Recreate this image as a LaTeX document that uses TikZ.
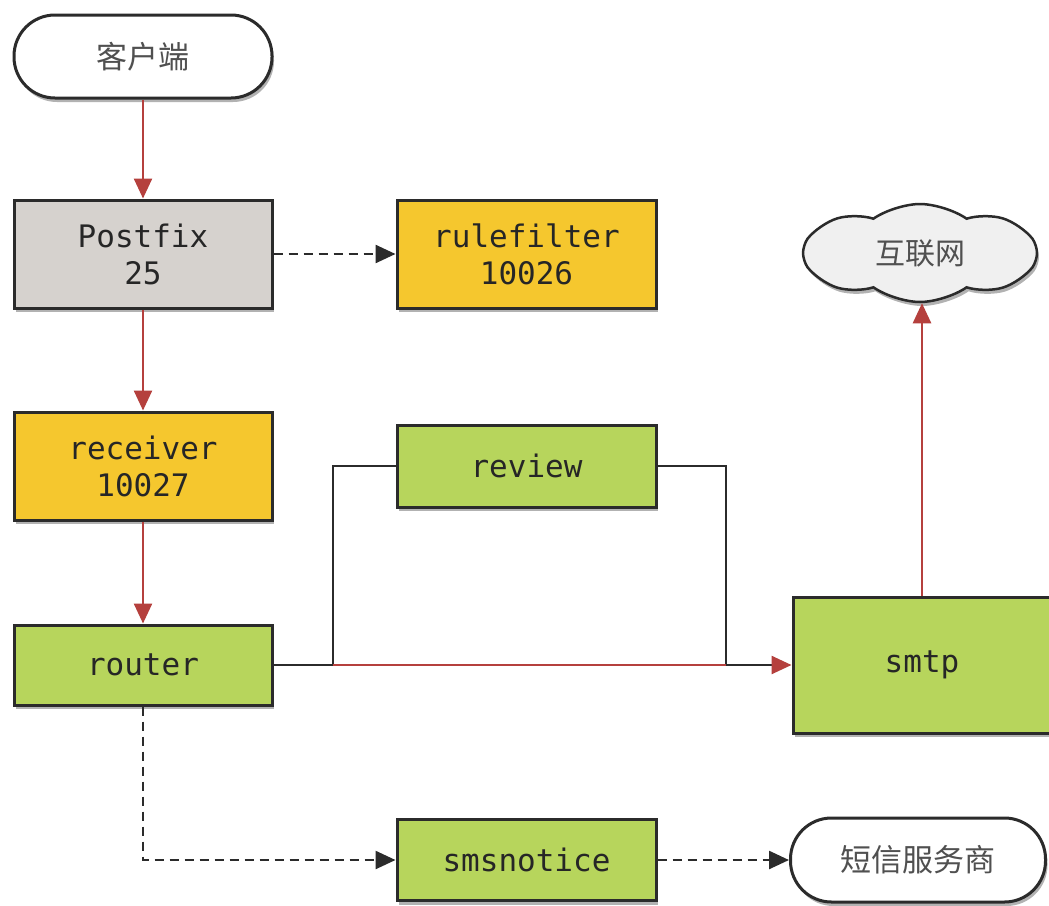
\documentclass[tikz,border=0pt]{standalone}
\usepackage{fontspec}
\setmonofont{DejaVu Sans Mono}
\newfontfamily\cjk{Noto Sans CJK SC}
\usetikzlibrary{arrows.meta,shapes.symbols,shadows}
\definecolor{boxgray}{HTML}{D6D2CE}
\definecolor{boxyellow}{HTML}{F5C72E}
\definecolor{boxgreen}{HTML}{B7D55C}
\definecolor{arrowred}{HTML}{B5403D}
\definecolor{edgeline}{HTML}{2B2B2B}
\definecolor{txt}{HTML}{262626}
\definecolor{cjktxt}{HTML}{505050}
\definecolor{cloudfill}{HTML}{F0F0F0}
\begin{document}
\begin{tikzpicture}[x=1pt,y=-1pt,
  shadowed/.style={drop shadow={shadow xshift=2pt, shadow yshift=-4pt, opacity=0.3, fill=black}},
  box/.style={shadowed, rectangle, draw=edgeline, line width=3pt, inner sep=0pt, align=center,
    text=txt, font=\ttfamily\fontsize{31}{37}\selectfont},
  termnode/.style={shadowed, rectangle, draw=edgeline, fill=white, line width=3pt, inner sep=0pt,
    text=cjktxt, font=\cjk\fontsize{31}{36}\selectfont},
  redarrow/.style={draw=arrowred, line width=2.5pt, -{Triangle[length=20pt,width=18pt]}},
  dasharrow/.style={draw=edgeline, line width=2.5pt, dash pattern=on 9pt off 6pt, -{Triangle[length=20pt,width=18pt]}},
  plainline/.style={draw=edgeline, line width=2.5pt},
]
\clip (0,0) rectangle (1049,905);
\fill[white] (0,0) rectangle (1049,905);

\node[termnode, minimum width=258pt, minimum height=83pt, rounded corners=41pt] (client) at (143,56.5) {客户端};
\node[box, fill=boxgray, minimum width=258pt, minimum height=108pt] (postfix) at (143,254) {Postfix\\25};
\node[box, fill=boxyellow, minimum width=259pt, minimum height=108pt] (rulefilter) at (526.5,254) {rulefilter\\10026};
\node[shadowed, cloud, cloud puffs=8, cloud puff arc=70, aspect=2.4, draw=edgeline, fill=cloudfill, line width=2.5pt,
  minimum width=234pt, minimum height=98pt, inner sep=0pt, text=cjktxt, font=\cjk\fontsize{30}{34}\selectfont] (inet) at (920,253) {互联网};
\node[box, fill=boxyellow, minimum width=258pt, minimum height=108pt] (receiver) at (143,466) {receiver\\10027};
\node[box, fill=boxgreen, minimum width=259pt, minimum height=82pt] (review) at (526.5,466) {review};
\node[box, fill=boxgreen, minimum width=258pt, minimum height=80pt] (router) at (143,665) {router};
\node[box, fill=boxgreen, minimum width=258pt, minimum height=136pt] (smtp) at (922,665) {smtp};
\node[box, fill=boxgreen, minimum width=259pt, minimum height=81pt] (sms) at (526.5,860) {smsnotice};
\node[termnode, minimum width=255pt, minimum height=84pt, rounded corners=41pt] (provider) at (918,860) {短信服务商};

\coordinate (j1) at (333,665);
\coordinate (j2) at (726,665);

\draw[redarrow] (client) -- (postfix);
\draw[redarrow] (postfix) -- (receiver);
\draw[redarrow] (receiver) -- (router);
\draw[dasharrow] (postfix) -- (rulefilter);
\draw[plainline] (router.east) -- (j1) |- (review.west);
\draw[plainline] (review.east) -| (j2);
\draw[draw=arrowred, line width=2.5pt] (j1) -- (j2);
\draw[plainline, -{Triangle[length=20pt,width=18pt,color=arrowred]}] (j2) -- (smtp.west);
\draw[redarrow] (smtp.north) -- (smtp.north |- inet.south);
\draw[dasharrow] (router.south) |- (sms.west);
\draw[dasharrow] (sms) -- (provider);
\end{tikzpicture}
\end{document}
